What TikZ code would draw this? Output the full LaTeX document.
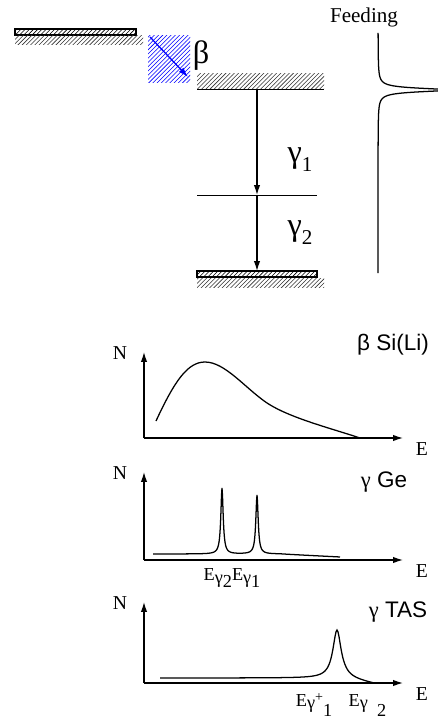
\documentclass[tikz,border=0pt]{standalone}
\usepackage{fontspec}
\setmainfont{Liberation Serif}
\setsansfont{Liberation Sans}
\usetikzlibrary{patterns, arrows.meta}

\newcommand{\lowsub}[1]{\raisebox{-0.6ex}{\fontsize{15}{15}\selectfont #1}}
\newcommand{\Eg}[1]{E\raisebox{-0.35ex}{γ}\raisebox{-0.9ex}{#1}}

\begin{document}
\begin{tikzpicture}[x=0.025cm, y=-0.025cm, line width=0.9pt,
    >={Latex[length=7pt,width=4.5pt]},
    bar/.style={draw, line width=1.4pt, pattern=north east lines},
    hatch/.style={pattern=north east lines, pattern color=black!80},
    lbl/.style={font=\fontsize{14}{14}\selectfont, inner sep=0pt},
    big/.style={font=\fontsize{23}{23}\selectfont, inner sep=0pt},
    tag/.style={font=\sffamily\fontsize{16}{16}\selectfont, inner sep=0pt},
    peak/.style={font=\fontsize{13}{13}\selectfont, inner sep=0pt}]

    \useasboundingbox (0,0) rectangle (438,721);

    % decay scheme
    \draw[bar] (15,29) rectangle (136,35);
    \fill[hatch] (15,36) rectangle (143,45);
    \fill[pattern=north east lines, pattern color=blue] (148,36) rectangle (190,83);
    \coordinate (b0) at (150,37);
    \coordinate (b1) at (188,77);
    \draw[->, blue] (b0) -- (b1);
    \node[big] (beta) at (201,56) {β};

    \fill[hatch] (197,74) rectangle (324,89);
    \draw[line width=0.6pt] (197,89) -- (324,89);
    \draw[line width=0.6pt] (197,195) -- (317,195);
    \draw[bar] (197,271) rectangle (317,277);
    \fill[hatch] (197,278) rectangle (324,287);

    \coordinate (lev2) at (257,89);
    \coordinate (lev1) at (257,195);
    \coordinate (lev0) at (257,271);
    \draw[->] (lev2) -- (lev1);
    \draw[->] (lev1) -- (lev0);
    \node[big] (g1) at (300,160) {γ\lowsub{1}};
    \node[big] (g2) at (300,233) {γ\lowsub{2}};

    \node[lbl, font=\fontsize{15}{15}\selectfont] (feed) at (364,17) {Feeding};
    \draw plot[domain=33:273, samples=481] ({378+70/(1+((\x-90)/2.2)^2)}, \x);

    % spectra
    \foreach \i/\yo/\yt in {1/438/352, 2/560/472, 3/683/602} {
        \coordinate (o\i) at (144,\yo);
        \coordinate (n\i) at (144,\yt);
        \coordinate (e\i) at (403,\yo);
        \draw[->] (o\i) -- (n\i);
        \draw[->] (o\i) -- (e\i);
        \node[lbl] (N\i) at (120,\yt+1) {N};
        \node[lbl] (E\i) at (422,\yo+11) {E};
    }

    \node[tag] (tag1) at (393,345) {β Si(Li)};
    \node[tag] (tag2) at (384,482) {{\rmfamily γ} Ge};
    \node[tag] (tag3) at (398,612) {{\rmfamily γ} TAS};

    \draw (156,421) .. controls (175,380) and (188,362) .. (205,362)
        .. controls (225,362) and (245,388) .. (267,403)
        .. controls (290,418) and (330,428) .. (360,438);
    \draw plot[domain=153:340, samples=375]
        (\x, {554 + (\x>280)*(\x-280)*0.05 - 66/(1+((\x-222)/1.4)^2) - 59/(1+((\x-257)/1.4)^2)});
    \draw plot[domain=160:373, samples=214]
        (\x, {678 - 48/(1+((\x-337)/5)^2) + (\x>345)*(\x-345)*0.2});

    \node[peak] (pk2) at (232,578) {\Eg{2}\Eg{1}};
    \node[peak] (pk3) at (341,705) {E\raisebox{-0.35ex}{γ}\raisebox{0.6ex}{\fontsize{10}{10}\selectfont +}\raisebox{-1.3ex}{1}\hspace{0.9em}E\raisebox{-0.35ex}{γ}\hspace{0.5em}\raisebox{-1.3ex}{2}};

\end{tikzpicture}
\end{document}
